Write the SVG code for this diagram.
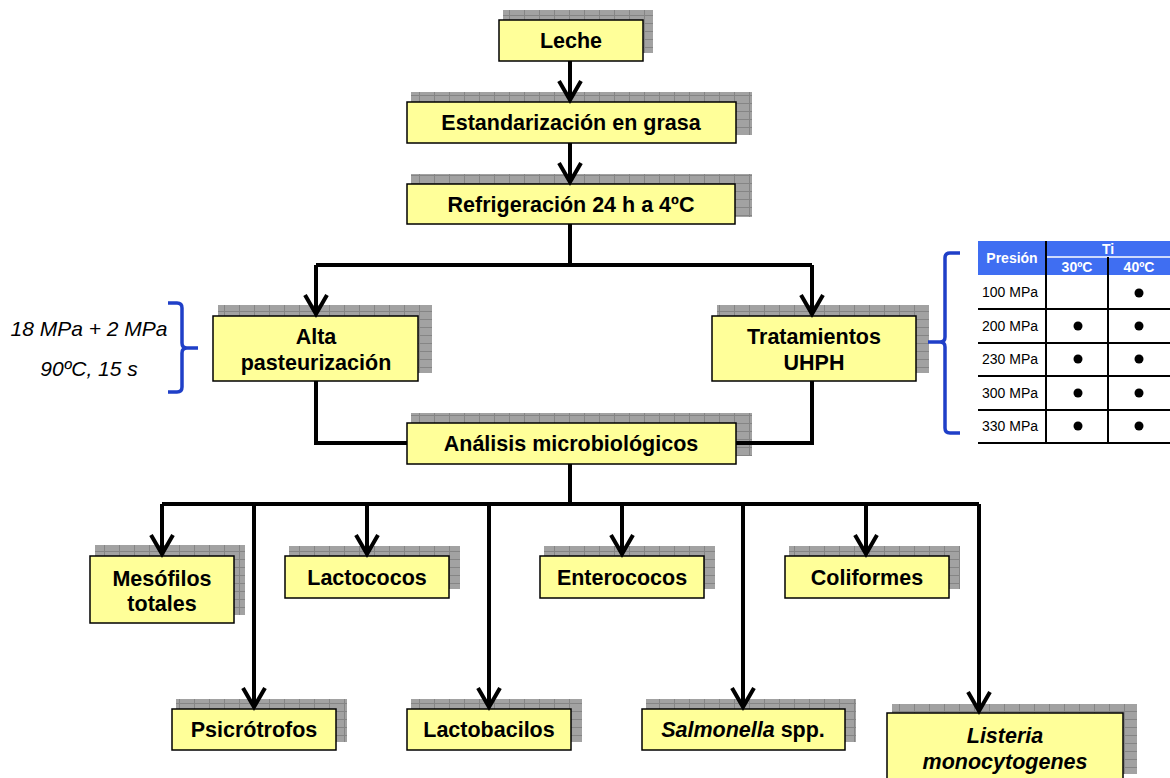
<svg xmlns="http://www.w3.org/2000/svg" width="1170" height="778" viewBox="0 0 1170 778">
<defs>
<pattern id="grid" patternUnits="userSpaceOnUse" width="15" height="8">
<rect width="15" height="8" fill="#a2a2a2"/>
<path d="M14.5 0V8M0 7.5H15" stroke="#858585" stroke-width="1"/>
</pattern>
<path id="ah" d="M-11,-19 L0,0 L11,-19" fill="none" stroke="#000" stroke-width="4"/>
<style>
.sh{fill:url(#grid)}
.bx{fill:#ffff99;stroke:#000;stroke-width:1.5}
.t{font-family:"Liberation Sans",Arial,sans-serif;font-weight:bold;font-size:21.5px;fill:#000;text-anchor:middle}
.it{font-style:italic}
.c{fill:none;stroke:#000;stroke-width:4}
.br{fill:none;stroke:#1f3fc8;stroke-width:3.5}
.side{font-family:"Liberation Sans",Arial,sans-serif;font-style:italic;font-size:21px;fill:#000;text-anchor:middle}
.tb{font-family:"Liberation Sans",Arial,sans-serif;font-size:14px;fill:#000}
.th{font-family:"Liberation Sans",Arial,sans-serif;font-size:14px;font-weight:bold;fill:#fff;text-anchor:middle}
.tl{stroke:#000;stroke-width:2}
</style>
</defs>
<rect width="1170" height="778" fill="#fff"/>

<g id="leche">
<rect class="sh" x="503" y="10" width="150" height="43"/>
<rect class="bx" x="499" y="20" width="144" height="41"/>
<text class="t" x="571" y="48">Leche</text>
</g>
<g id="estandarizacion">
<rect class="sh" x="411" y="92" width="341" height="43"/>
<rect class="bx" x="407" y="102" width="329" height="41"/>
<text class="t" x="571" y="130">Estandarización en grasa</text>
</g>
<g id="refrigeracion">
<rect class="sh" x="411" y="174" width="341" height="43"/>
<rect class="bx" x="407" y="184" width="328" height="40"/>
<text class="t" x="571" y="212">Refrigeración 24 h a 4ºC</text>
</g>
<g id="alta">
<rect class="sh" x="218" y="305" width="214" height="68"/>
<rect class="bx" x="213" y="316" width="205" height="65"/>
<text class="t" x="316" y="344">Alta</text>
<text class="t" x="316" y="370">pasteurización</text>
</g>
<g id="uhph">
<rect class="sh" x="717" y="305" width="212" height="68"/>
<rect class="bx" x="712" y="316" width="204" height="65"/>
<text class="t" x="814" y="344">Tratamientos</text>
<text class="t" x="814" y="370">UHPH</text>
</g>
<g id="analisis">
<rect class="sh" x="411" y="413" width="341" height="43"/>
<rect class="bx" x="407" y="423" width="329" height="41"/>
<text class="t" x="571" y="451">Análisis microbiológicos</text>
</g>
<g id="mesofilos">
<rect class="sh" x="95" y="545" width="150" height="70"/>
<rect class="bx" x="90" y="556" width="144" height="67"/>
<text class="t" x="162" y="586">Mesófilos</text>
<text class="t" x="162" y="611">totales</text>
</g>
<g id="lactococos">
<rect class="sh" x="289" y="546" width="171" height="43"/>
<rect class="bx" x="285" y="556" width="164" height="42"/>
<text class="t" x="367" y="585">Lactococos</text>
</g>
<g id="enterococos">
<rect class="sh" x="544" y="546" width="171" height="43"/>
<rect class="bx" x="540" y="556" width="164" height="42"/>
<text class="t" x="622" y="585">Enterococos</text>
</g>
<g id="coliformes">
<rect class="sh" x="789" y="546" width="171" height="43"/>
<rect class="bx" x="785" y="556" width="164" height="42"/>
<text class="t" x="867" y="585">Coliformes</text>
</g>
<g id="psicrotrofos">
<rect class="sh" x="176" y="699" width="171" height="43"/>
<rect class="bx" x="172" y="709" width="164" height="41"/>
<text class="t" x="254" y="737">Psicrótrofos</text>
</g>
<g id="lactobacilos">
<rect class="sh" x="411" y="699" width="171" height="43"/>
<rect class="bx" x="407" y="709" width="164" height="41"/>
<text class="t" x="489" y="737">Lactobacilos</text>
</g>
<g id="salmonella">
<rect class="sh" x="646" y="699" width="210" height="43"/>
<rect class="bx" x="642" y="709" width="203" height="41"/>
<text class="t" x="743" y="737"><tspan class="it">Salmonella</tspan> spp.</text>
</g>
<g id="listeria">
<rect class="sh" x="892" y="704" width="245" height="70"/>
<rect class="bx" x="887" y="713" width="236" height="70"/>
<text class="t it" x="1005" y="743">Listeria</text>
<text class="t it" x="1005" y="769">monocytogenes</text>
</g>

<g id="alta-params">
<text class="side" x="89" y="336">18 MPa + 2 MPa</text>
<text class="side" x="89" y="376">90ºC, 15 s</text>
<path class="br" d="M168 303H177Q182 303 182 308V343Q182 348 187 348H198M187 348Q182 348 182 353V387Q182 392 177 392H168"/>
</g>

<g id="uhph-table">
<path class="br" d="M960 253H950Q945 253 945 258V337Q945 342 940 342H928M940 342Q945 342 945 347V428Q945 433 950 433H960"/>
<rect x="978" y="241" width="192" height="34" fill="#3f6ef2"/>
<path d="M1046 257H1170" stroke="#fff" stroke-width="1.5"/>
<path d="M1046 241V275M1108 257V275" stroke="#000" stroke-width="2"/>
<text class="th" x="1012" y="263">Presión</text>
<text class="th" x="1108" y="254">Ti</text>
<text class="th" x="1077" y="272">30ºC</text>
<text class="th" x="1139" y="272">40ºC</text>
<path class="tl" d="M1046 275V443M1108 275V443M978 309H1170M978 343H1170M978 376H1170M978 410H1170M978 443H1170"/>
<text class="tb" x="982" y="297">100 MPa</text>
<text class="tb" x="982" y="331">200 MPa</text>
<text class="tb" x="982" y="364">230 MPa</text>
<text class="tb" x="982" y="398">300 MPa</text>
<text class="tb" x="982" y="431">330 MPa</text>
<circle cx="1139" cy="293" r="4.5"/>
<circle cx="1078" cy="326" r="4.5"/>
<circle cx="1139" cy="326" r="4.5"/>
<circle cx="1078" cy="359" r="4.5"/>
<circle cx="1139" cy="359" r="4.5"/>
<circle cx="1078" cy="393" r="4.5"/>
<circle cx="1139" cy="393" r="4.5"/>
<circle cx="1078" cy="426" r="4.5"/>
<circle cx="1139" cy="426" r="4.5"/>
</g>

<g id="connectors">
<path class="c" d="M570 61V100M570 143V182"/>
<path class="c" d="M570 224V265M316 265H812M316 265V313M812 265V313"/>
<path class="c" d="M316 381V443H407"/>
<path class="c" d="M812 381V443H736"/>
<path class="c" d="M570 464V504M162 504H979"/>
<path class="c" d="M162 504V553M254 504V706M367 504V553M489 504V706M622 504V553M743 504V706M866 504V553M979 504V710"/>
<use href="#ah" x="570" y="100"/>
<use href="#ah" x="570" y="182"/>
<use href="#ah" x="316" y="314"/>
<use href="#ah" x="812" y="314"/>
<use href="#ah" x="162" y="554"/>
<use href="#ah" x="254" y="707"/>
<use href="#ah" x="367" y="554"/>
<use href="#ah" x="489" y="707"/>
<use href="#ah" x="622" y="554"/>
<use href="#ah" x="743" y="707"/>
<use href="#ah" x="866" y="554"/>
<use href="#ah" x="979" y="711"/>
</g>
</svg>
